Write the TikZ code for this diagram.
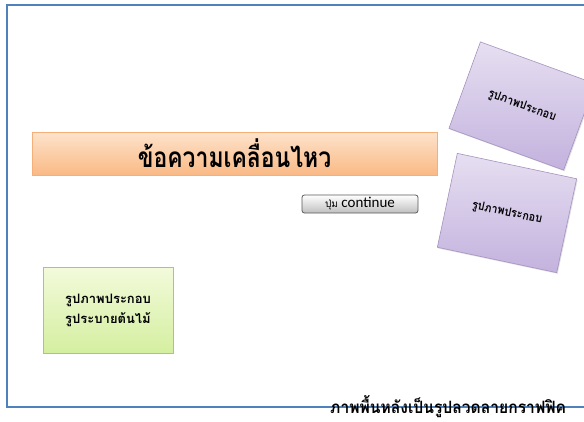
\documentclass[tikz,border=0pt]{standalone}
\usepackage{fontspec}
\newfontfamily\thaifont[Script=Thai]{Loma}
\setsansfont{Carlito}
\usetikzlibrary{shadows}

\definecolor{framblue}{HTML}{4F81BD}
\definecolor{orgtop}{HTML}{FDE3CC}
\definecolor{orgbot}{HTML}{FAB985}
\definecolor{orgline}{HTML}{F5B07A}
\definecolor{purtop}{HTML}{E6DFF1}
\definecolor{purbot}{HTML}{C3B2DE}
\definecolor{purline}{HTML}{8064A2}
\definecolor{grntop}{HTML}{F3FADB}
\definecolor{grnbot}{HTML}{D4EFA0}
\definecolor{grnline}{HTML}{A9C96A}

\begin{document}
\begin{tikzpicture}[x=1pt,y=-1pt,
	slidebox/.style={draw, line width=0.6pt, inner sep=0pt,
		drop shadow={opacity=0.25, shadow xshift=1pt, shadow yshift=-1.2pt}},
	orangebar/.style={slidebox, draw=orgline, top color=orgtop, bottom color=orgbot,
		minimum width=405pt, minimum height=43pt},
	picbox/.style={slidebox, draw=purline!70, top color=purtop, bottom color=purbot,
		minimum width=122pt, minimum height=92pt, font=\thaifont\bfseries\fontsize{12}{14}\selectfont},
	greenbox/.style={slidebox, draw=grnline, top color=grntop, bottom color=grnbot,
		minimum width=130pt, minimum height=86pt, align=center,
		font=\thaifont\bfseries\fontsize{13}{20}\selectfont},
	btnbox/.style={draw=black!65, line width=0.8pt, rounded corners=2.5pt,
		top color=white, bottom color=black!25, minimum width=116pt, minimum height=18pt,
		inner sep=0pt}]
	\useasboundingbox (0,0) rectangle (584,421);
	\clip (0,0) rectangle (584,421);

	% slide frame
	\draw[framblue, line width=1.4pt] (7,5) rectangle (620,407);

	% moving text bar and button
	\node[orangebar] (movingtext) at (234.5,153.5)
		{\scalebox{0.82}[1]{\thaifont\bfseries\fontsize{28}{30}\selectfont ข้อความเคลื่อนไหว}};
	\node[btnbox] (btn) at (360,204)
		{\thaifont\fontsize{10}{10}\selectfont ปุ่ม \sffamily\fontsize{15}{15}\selectfont continue};

	% pictures on the right
	\node[picbox, rotate=-20] (pica) at (522,106) {\scalebox{0.9}[1]{รูปภาพประกอบ}};
	\node[picbox, rotate=-12, minimum height=96pt] (picb) at (507,213) {\scalebox{0.9}[1]{รูปภาพประกอบ}};

	% picture on the left
	\node[greenbox] (picgreen) at (108,310) {รูปภาพประกอบ\\รูประบายต้นไม้};

	% caption
	\node[anchor=west, inner sep=0pt, font=\thaifont\bfseries\fontsize{17}{18}\selectfont]
		(caption) at (330,407) {\scalebox{0.92}[1]{ภาพพื้นหลังเป็นรูปลวดลายกราฟฟิค}};
\end{tikzpicture}
\end{document}
